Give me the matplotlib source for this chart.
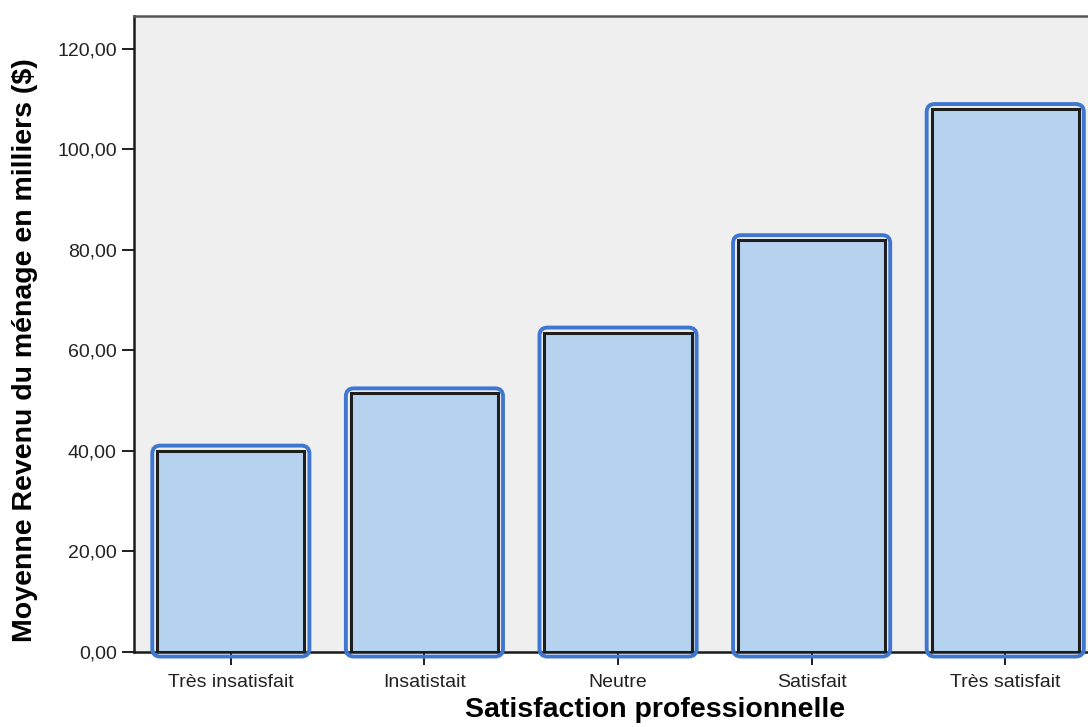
import matplotlib
matplotlib.use("Agg")
import matplotlib.pyplot as plt
from matplotlib.patches import FancyBboxPatch
from matplotlib.ticker import FuncFormatter

# Mean household income (thousands of $) by job satisfaction
categories = ["Très insatisfait", "Insatistait", "Neutre", "Satisfait", "Très satisfait"]
mean_income = [40.0, 51.4, 63.5, 81.9, 108.0]
y_ticks = [0, 20, 40, 60, 80, 100, 120]

plt.rcParams["font.family"] = ["Liberation Sans", "DejaVu Sans"]

fig = plt.figure(figsize=(10.88, 7.27), dpi=100, facecolor="white")
ax = fig.add_axes([0.1232, 0.1038, 0.8897, 0.874])
ax.set_facecolor("#efefef")

x = list(range(len(categories)))
bar_width = 0.76
bars = ax.bar(x, mean_income, width=bar_width, color="#b5d3ef",
              edgecolor="#1e1e1e", linewidth=2.2, zorder=3)

ax.set_xlim(-0.5, len(categories) - 0.5)
ax.set_ylim(0, 126.5)

# Rounded blue outline around each bar, padded by a few pixels
fig.canvas.draw()
p0 = ax.transData.transform((0, 0))
px_per_x = ax.transData.transform((1, 0))[0] - p0[0]
px_per_y = ax.transData.transform((0, 1))[1] - p0[1]
aspect = px_per_x / px_per_y
gap_px = 5.0
pad = gap_px / px_per_x
for xi, val in zip(x, mean_income):
    outline = FancyBboxPatch((xi - bar_width / 2, 0), bar_width, val,
                             boxstyle=f"round,pad={pad},rounding_size={1.6 * pad}",
                             mutation_aspect=aspect,
                             facecolor="none", edgecolor="#3f77d0",
                             linewidth=2.8, zorder=4, clip_on=False)
    ax.add_patch(outline)

ax.set_yticks(y_ticks)
ax.yaxis.set_major_formatter(FuncFormatter(lambda v, _: f"{v:.2f}".replace(".", ",")))
ax.set_xticks(x)
ax.set_xticklabels(categories)

ax.tick_params(axis="y", length=8.5, width=1.4, pad=4, labelsize=14,
               colors="#1e1e1e", labelcolor="#222222")
ax.tick_params(axis="x", length=9, width=1.4, pad=7, labelsize=14,
               colors="#1e1e1e", labelcolor="#222222")

for side in ("left", "bottom"):
    ax.spines[side].set_linewidth(1.8)
    ax.spines[side].set_color("#1a1a1a")
ax.spines["top"].set_linewidth(1.8)
ax.spines["top"].set_color("#555555")
ax.spines["right"].set_visible(False)

ax.set_xlabel("Satisfaction professionnelle", fontsize=20.5, fontweight="bold")
ax.set_ylabel("Moyenne Revenu du ménage en milliers ($)", fontsize=20.5,
              fontweight="bold")
ax.xaxis.set_label_coords(0.538, -0.072)
ax.yaxis.set_label_coords(-0.099, 0.474)

fig.savefig("out.png", dpi=100, facecolor="white")
